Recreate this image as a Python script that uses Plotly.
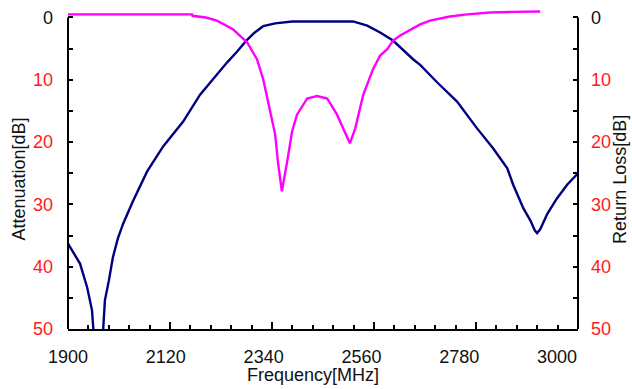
import plotly.graph_objects as go

# Attenuation (blue) curve
att_freq = [1900, 1927, 1943, 1954, 1960, 1967, 1975, 1979, 1983, 1992, 2001, 2012, 2024,
            2046, 2078, 2114, 2159, 2197, 2235, 2258, 2280, 2300, 2320, 2339, 2366, 2404,
            2450, 2500, 2541, 2573, 2602, 2631, 2676, 2692, 2730, 2775, 2820, 2856, 2888,
            2901, 2924, 2940, 2950, 2955, 2962, 2978, 3000, 3023, 3047]
att_db = [36.3, 39.5, 43.3, 47.0, 53.0, 60.0, 55.0, 50.5, 45.4, 42.2, 38.5, 35.5, 33.1,
          29.5, 24.7, 20.7, 16.7, 12.4, 9.1, 7.2, 5.5, 3.8, 2.4, 1.4, 0.95, 0.64,
          0.64, 0.64, 0.64, 1.3, 2.4, 3.7, 6.7, 7.6, 10.4, 13.5, 17.8, 21.0, 24.2,
          26.8, 30.6, 32.6, 34.2, 34.6, 34.0, 31.5, 29.0, 26.8, 25.0]

# Return loss (magenta) curve
rl_freq = [1900, 2000, 2100, 2179, 2180, 2210, 2235, 2271, 2303, 2325, 2339, 2354, 2366,
           2372, 2381, 2393, 2404, 2415, 2438, 2460, 2483, 2505, 2523, 2534, 2546, 2564,
           2586, 2602, 2618, 2631, 2647, 2692, 2714, 2759, 2798, 2849, 2900, 2962]
rl_db = [-0.5, -0.5, -0.5, -0.5, -0.27, 0.0, 0.5, 1.9, 4.0, 6.7, 9.9, 14.6, 18.8,
         23.1, 27.9, 23.1, 18.3, 15.6, 13.0, 12.6, 13.0, 15.6, 18.3, 20.2, 17.8, 12.4,
         8.3, 6.1, 5.1, 3.7, 2.9, 1.1, 0.5, -0.15, -0.5, -0.8, -0.9, -0.95]

x_labels = [1900, 2120, 2340, 2560, 2780, 3000]
y_ticks = [0, 10, 20, 30, 40, 50]

X_RANGE = [1900, 3047]
Y_RANGE = [50, -1.2]

FONT = "Liberation Sans, Arial, sans-serif"
FS = 18
RED = "#ff1a1a"

y_text = [str(v) if v == 0 else f'<span style="color:{RED}">{v}</span>' for v in y_ticks]

fig = go.Figure()
fig.add_trace(go.Scatter(x=att_freq, y=att_db, mode="lines",
                         line=dict(color="#000080", width=2.4), xaxis="x", yaxis="y",
                         showlegend=False))
fig.add_trace(go.Scatter(x=rl_freq, y=rl_db, mode="lines",
                         line=dict(color="#ff00ff", width=2.4), xaxis="x2", yaxis="y2",
                         showlegend=False))

common_y = dict(range=Y_RANGE, tickmode="array", tickvals=y_ticks, ticktext=y_text,
                ticks="inside", ticklen=5, tickwidth=1.5, tickcolor="black",
                minor=dict(ticks="inside", ticklen=5, tickwidth=1.5, tickcolor="black",
                           tick0=0, dtick=5),
                showgrid=False, zeroline=False, showline=False,
                tickfont=dict(family=FONT, size=FS, color="#111"))

fig.update_layout(
    width=632, height=389,
    margin=dict(l=68, r=54, t=7.5, b=60),
    paper_bgcolor="white", plot_bgcolor="white",
    font=dict(family=FONT, size=FS, color="#111"),
    xaxis=dict(range=X_RANGE, tickmode="array", tickvals=x_labels, ticks="",
               showline=True, linecolor="black", linewidth=2, showgrid=False,
               zeroline=False, ticklabelstandoff=10,
               tickfont=dict(family=FONT, size=FS, color="#111")),
    xaxis2=dict(range=X_RANGE, overlaying="x", anchor="y", side="bottom",
                tick0=1900, dtick=(X_RANGE[1] - X_RANGE[0]) / 5, ticks="inside",
                ticklen=7, tickwidth=1.5, tickcolor="black", showticklabels=False,
                minor=dict(ticks="inside", ticklen=4, tickwidth=1.5, tickcolor="black",
                           tick0=1900, dtick=(X_RANGE[1] - X_RANGE[0]) / 25),
                showgrid=False, zeroline=False, showline=False),
    yaxis=dict(side="left", anchor="x", ticklabelstandoff=14, **common_y),
    yaxis2=dict(side="right", anchor="x", overlaying="y", ticklabelstandoff=12, **common_y),
    shapes=[
        dict(type="line", xref="paper", x0=0, x1=0, yref="y", y0=0, y1=50,
             line=dict(color="black", width=2)),
        dict(type="line", xref="paper", x0=1, x1=1, yref="y", y0=0, y1=50,
             line=dict(color="black", width=2)),
    ],
    annotations=[
        dict(text="Attenuation[dB]", xref="paper", yref="paper", x=-0.095, y=0.47,
             xanchor="center", yanchor="middle", textangle=-90, showarrow=False,
             font=dict(family=FONT, size=FS, color="#111")),
        dict(text="Return Loss[dB]", xref="paper", yref="paper", x=1.082, y=0.47,
             xanchor="center", yanchor="middle", textangle=-90, showarrow=False,
             font=dict(family=FONT, size=FS, color="#111")),
        dict(text="Frequency[MHz]", xref="paper", yref="paper", x=0.48, y=-0.106,
             xanchor="center", yanchor="top", showarrow=False,
             font=dict(family=FONT, size=FS, color="#111")),
    ],
)

fig.write_html("out.html", config={"displayModeBar": False},
               post_script="document.body.style.margin='0';")
